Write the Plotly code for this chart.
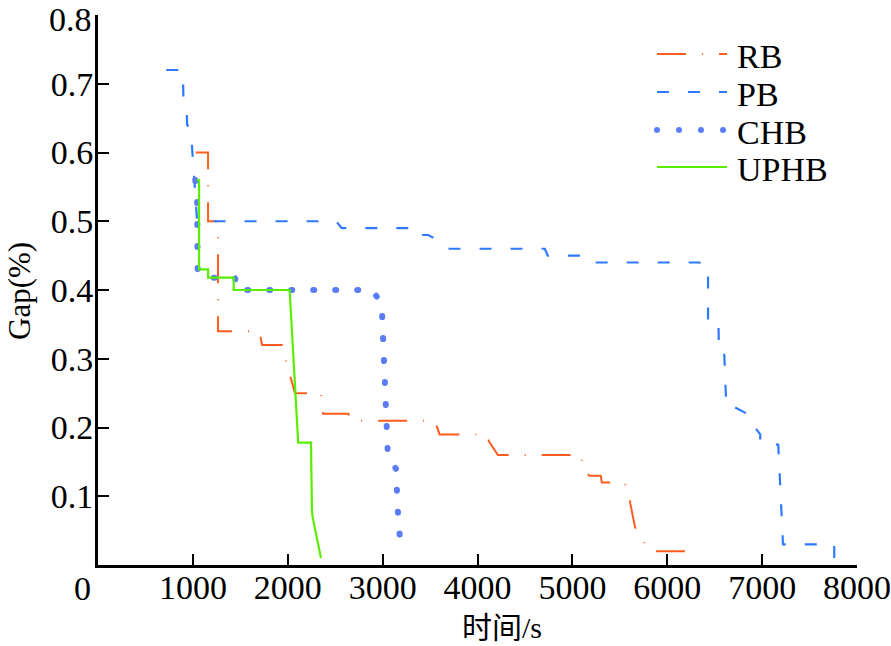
import plotly.graph_objects as go

# ---------------- data ----------------
series_names = ["RB", "PB", "CHB", "UPHB"]

rb_time = [1030, 1160, 1160, 1265, 1265, 1700, 1730, 1950, 1955, 2076, 2350, 2372, 2640,
           2660, 3550, 3600, 4100, 4120, 4215, 5100, 5100, 5180, 5300, 5310, 5550, 5600,
           5610, 5660, 5730, 5810, 6300]
rb_gap = [0.60, 0.60, 0.50, 0.50, 0.34, 0.34, 0.32, 0.32, 0.31, 0.25, 0.25, 0.22, 0.22,
          0.21, 0.21, 0.19, 0.19, 0.18, 0.16, 0.16, 0.14, 0.13, 0.13, 0.12, 0.12, 0.10,
          0.09, 0.055, 0.04, 0.02, 0.02]

pb_time = [720, 895, 900, 935, 940, 970, 990, 1010, 1040, 1045, 2510, 2570, 3310, 3330,
           3480, 3620, 3690, 4710, 4740, 5150, 5210, 6340, 6370, 6430, 6430, 6540, 6545,
           6600, 6620, 6700, 6705, 6840, 6870, 6980, 6980, 7170, 7220, 7760, 7760]
pb_gap = [0.72, 0.72, 0.68, 0.66, 0.64, 0.635, 0.61, 0.57, 0.51, 0.50, 0.50, 0.49, 0.49,
          0.48, 0.48, 0.47, 0.46, 0.46, 0.45, 0.45, 0.44, 0.44, 0.43, 0.43, 0.35, 0.35,
          0.31, 0.31, 0.24, 0.24, 0.23, 0.22, 0.21, 0.19, 0.178, 0.175, 0.03, 0.03, 0.01]

chb_time = [1025, 1045, 1050, 1110, 1445, 1465, 2890, 2990, 3055, 3140, 3160, 3195]
chb_gap = [0.56, 0.53, 0.43, 0.418, 0.418, 0.40, 0.40, 0.38, 0.16, 0.14, 0.08, 0.015]

uphb_time = [1040, 1065, 1065, 1160, 1160, 1430, 1430, 2020, 2110, 2245, 2255, 2262, 2350]
uphb_gap = [0.56, 0.56, 0.43, 0.43, 0.418, 0.418, 0.40, 0.40, 0.178, 0.178, 0.08, 0.07, 0.01]

x_tick_vals = [1000, 2000, 3000, 4000, 5000, 6000, 7000, 8000]
x_tick_text = ["1000", "2000", "3000", "4000", "5000", "6000", "7000", "8000"]
y_tick_vals = [0.1, 0.2, 0.3, 0.4, 0.5, 0.6, 0.7, 0.8]
y_tick_text = ["0.1", "0.2", "0.3", "0.4", "0.5", "0.6", "0.7", "0.8"]
origin_label = "0"
x_title = "时间/s"
y_title = "Gap(%)"

# ---------------- styles ----------------
colors = {"RB": "#ff5d1f", "PB": "#2e7aff", "CHB": "#5b7cf6", "UPHB": "#58ee00"}
dashes = {"RB": "29px,16px,1px,16px", "PB": "12px,19px", "CHB": "1px,21px", "UPHB": "solid"}
widths = {"RB": 2, "PB": 2.2, "CHB": 6, "UPHB": 2.2}

W, H = 891, 646
PL, PR, PT, PB_ = 98, 857, 15, 565
FONT = "Liberation Serif, Times New Roman, serif"


def px(xp):
    return (xp - PL) / (PR - PL)


def py(yp):
    return (PB_ - yp) / (PB_ - PT)


fig = go.Figure()
series = {
    "RB": (rb_time, rb_gap),
    "PB": (pb_time, pb_gap),
    "CHB": (chb_time, chb_gap),
    "UPHB": (uphb_time, uphb_gap),
}
for name in series_names:
    xs, ys = series[name]
    fig.add_trace(go.Scatter(
        x=xs, y=ys, mode="lines", name=name,
        line=dict(color=colors[name], width=widths[name], dash=dashes[name]),
        showlegend=False, hoverinfo="skip",
    ))

# ---------------- manual legend ----------------
shapes = []
annotations = []
leg_x0, leg_x1, text_x = 657, 727, 735
leg_y = {"RB": 54, "PB": 92, "CHB": 130, "UPHB": 167}
for name in series_names:
    y = leg_y[name]
    if name == "CHB":
        for k in range(4):
            cx = leg_x0 + 22 * k
            shapes.append(dict(type="circle", xref="paper", yref="paper",
                               xsizemode="pixel", ysizemode="pixel",
                               xanchor=px(cx), yanchor=py(y),
                               x0=-3, x1=3, y0=-3, y1=3,
                               fillcolor=colors[name], line=dict(width=0)))
    else:
        shapes.append(dict(type="line", xref="paper", yref="paper",
                           x0=px(leg_x0), x1=px(leg_x1), y0=py(y), y1=py(y),
                           line=dict(color=colors[name], width=widths[name],
                                     dash=dashes[name])))
    annotations.append(dict(text=name, xref="paper", yref="paper",
                            x=px(text_x), y=py(y + 2), xanchor="left", yanchor="middle",
                            showarrow=False, font=dict(family=FONT, size=34, color="black")))

# top y tick label placed as an annotation so it stays inside the page
y_ticktext_axis = y_tick_text[:-1] + [""]
annotations.append(dict(text=y_tick_text[-1], xref="paper", yref="paper",
                        x=px(93), y=py(0), xanchor="right", yanchor="top",
                        showarrow=False, borderpad=0,
                        font=dict(family=FONT, size=34, color="black")))

annotations.append(dict(text=origin_label, xref="paper", yref="paper",
                        x=px(82), y=py(588), xanchor="center", yanchor="middle",
                        showarrow=False, font=dict(family=FONT, size=34, color="black")))
annotations.append(dict(text=x_title, xref="paper", yref="paper",
                        x=px(502), y=py(627), xanchor="center", yanchor="middle",
                        showarrow=False,
                        font=dict(family="Liberation Serif, Noto Sans CJK SC", size=30,
                                  color="black")))
annotations.append(dict(text=y_title, xref="paper", yref="paper", textangle=-90,
                        x=px(19), y=py(291), xanchor="center", yanchor="middle",
                        showarrow=False, font=dict(family=FONT, size=31, color="black")))

axis_common = dict(showgrid=False, zeroline=False, showline=True, linecolor="black",
                   linewidth=3, ticks="inside", ticklen=11, tickwidth=2,
                   tickcolor="black", mirror=False, automargin=False,
                   ticklabeloverflow="allow",
                   tickfont=dict(family=FONT, size=34, color="black"))

fig.update_layout(
    width=W, height=H,
    margin=dict(l=PL, r=W - PR, t=PT, b=H - PB_, pad=0, autoexpand=False),
    plot_bgcolor="white", paper_bgcolor="white",
    xaxis=dict(range=[0, 8000], tickmode="array", tickvals=x_tick_vals,
               ticktext=x_tick_text, ticklabelstandoff=-10, **axis_common),
    yaxis=dict(range=[0, 0.8], tickmode="array", tickvals=y_tick_vals,
               ticktext=y_ticktext_axis, ticklabelstandoff=-5, **axis_common),
    shapes=shapes, annotations=annotations, showlegend=False,
)

post = ("var s=document.createElement('style');"
        "s.textContent='.scatterlayer .trace:nth-of-type(3) path.js-line{stroke-linecap:round}';"
        "document.head.appendChild(s);")
fig.write_html("out.html", post_script=post, config={"displayModeBar": False})
